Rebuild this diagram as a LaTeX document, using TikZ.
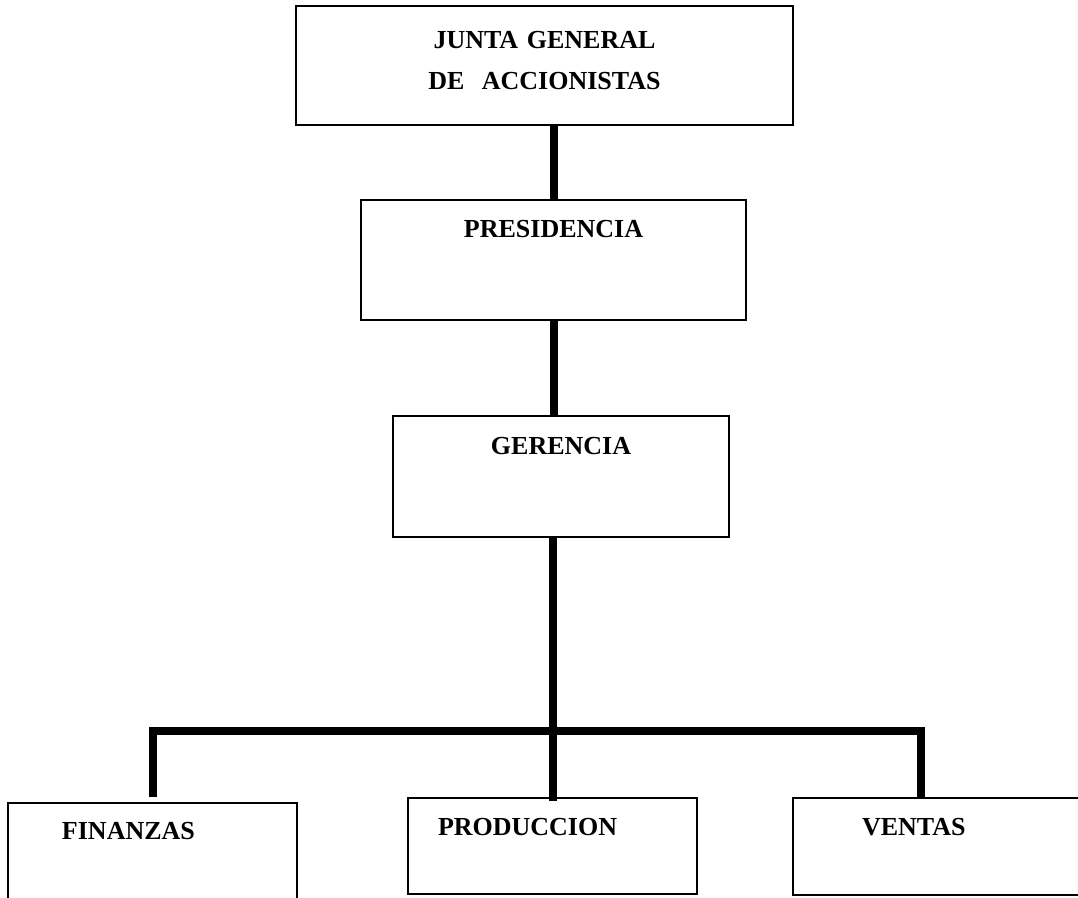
\documentclass[tikz,border=0pt]{standalone}
\usepackage{fontspec}
\setmainfont{Liberation Serif}
\usetikzlibrary{calc}
\begin{document}
\begin{tikzpicture}[x=1pt,y=-1pt,
  box/.style={draw=black, line width=1.8pt, rectangle, inner sep=0pt,
    font=\fontsize{26}{31}\selectfont\bfseries},
  leftbox/.style={box, align=left},
  conn/.style={draw=black, line width=8pt, line join=miter, line cap=butt}]
\clip (0,0) rectangle (1078,897);
\fill[white] (0,0) rectangle (1078,897);

\node[box, minimum width=497pt, text width=497pt, text height=42pt, text depth=77pt]
  (top) at (544.5,65.5)
  {\parbox[t]{497pt}{\centering\fontsize{26}{41}\selectfont\bfseries JUNTA GENERAL\\DE\ \ ACCIONISTAS}};
\node[box, minimum width=385pt, text height=37pt, text depth=83pt]
  (pres) at (553.5,260) {PRESIDENCIA};
\node[box, minimum width=336pt, text height=38pt, text depth=83pt]
  (ger) at (561,476.5) {GERENCIA};

\node[leftbox, text width=289pt, text height=36pt, text depth=66pt]
  (fin) at (152.5,854) {\hspace*{54pt}FINANZAS};
\node[leftbox, text width=289pt, text height=37pt, text depth=59pt]
  (prod) at (552.5,846) {\hspace*{30pt}PRODUCCION};
\node[leftbox, text width=297pt, text height=37pt, text depth=60pt]
  (ven) at (941.5,846.5) {\hspace*{69pt}VENTAS};

\coordinate (barR) at (921,730.5);

\draw[conn] (pres.north) -- (pres.north |- top.south);
\draw[conn] (pres.south) -- (pres.south |- ger.north);
\draw[conn] (prod.north |- ger.south) -- ($(prod.north)+(0,4)$);
\draw[conn] ($(fin.north)+(0.5,-5)$) |- (barR) -- (barR |- ven.north);
\end{tikzpicture}
\end{document}
